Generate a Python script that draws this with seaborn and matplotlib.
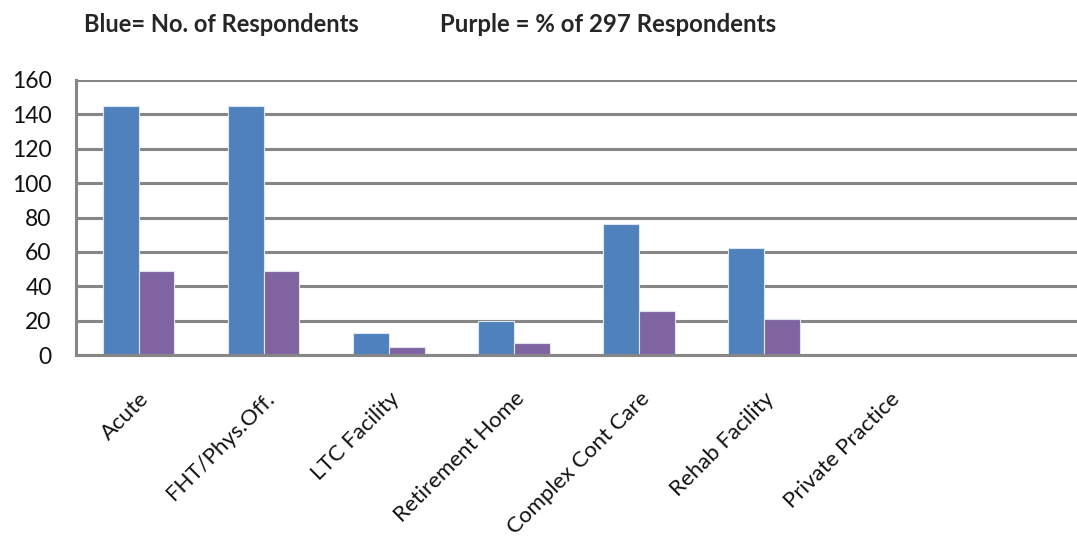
import matplotlib
matplotlib.use("Agg")
import matplotlib.pyplot as plt
import seaborn as sns
import pandas as pd
import numpy as np

categories = ["Acute", "FHT/Phys.Off.", "LTC Facility", "Retirement Home",
              "Complex Cont Care", "Rehab Facility", "Private Practice", ""]
respondents = [145, 145, 13, 20, 76, 62, 0, np.nan]
percent = [48.8, 48.8, 4.4, 6.7, 25.6, 20.9, 0, np.nan]
series = ["No. of Respondents", "% of 297 Respondents"]
colors = ["#4F81BD", "#8064A2"]
yticks = [0, 20, 40, 60, 80, 100, 120, 140, 160]

df = pd.DataFrame({
    "cat": categories * 2,
    "val": respondents + percent,
    "series": [series[0]] * len(categories) + [series[1]] * len(categories),
})

sns.set_theme(style="white")
plt.rcParams["font.family"] = ["Lato", "DejaVu Sans"]

fig = plt.figure(figsize=(10.77, 5.43), dpi=100)
ax = fig.add_axes([76 / 1077, (543 - 355) / 543, 1 - 76 / 1077, (355 - 80) / 543])

sns.barplot(data=df, x="cat", y="val", hue="series", order=categories,
            hue_order=series, palette=colors, width=0.571, dodge=True,
            saturation=1, edgecolor="#dde6f2", linewidth=0.8, legend=False,
            ax=ax, errorbar=None)

ax.set_xlim(-0.5, -0.5 + (1077 - 76) / 126)
ax.set_ylim(0, 160)
ax.set_yticks(yticks)
ax.set_yticklabels([str(v) for v in yticks], fontsize=16.5, color="#111111")
ax.yaxis.grid(True, color="#868686", linewidth=2.2)
ax.xaxis.grid(False)
ax.set_axisbelow(True)

grey = "#868686"
for s in ["top", "right"]:
    ax.spines[s].set_visible(False)
for s in ["left", "bottom"]:
    ax.spines[s].set_color(grey)
    ax.spines[s].set_linewidth(2.2)

ax.set_xticks(np.arange(len(categories)))
ax.set_xticklabels(categories, rotation=45, ha="right", rotation_mode="anchor",
                   fontsize=16, color="#111111")
ax.tick_params(axis="x", which="major", length=0, pad=24)
ax.set_xticks(np.arange(len(categories) + 1) - 0.5, minor=True)
ax.tick_params(axis="x", which="minor", length=7, width=2.2, color=grey, direction="out")
ax.tick_params(axis="y", length=6.5, width=2.2, color=grey, direction="out", pad=11)
ax.set_xlabel("")
ax.set_ylabel("")

fig.text(84 / 1077, 1 - 24 / 543, "Blue= No. of Respondents", fontsize=17,
         fontweight="bold", va="center", ha="left")
fig.text(440 / 1077, 1 - 24 / 543, "Purple = % of 297 Respondents", fontsize=17.3,
         fontweight="bold", va="center", ha="left")

fig.savefig("out.png", dpi=100)
